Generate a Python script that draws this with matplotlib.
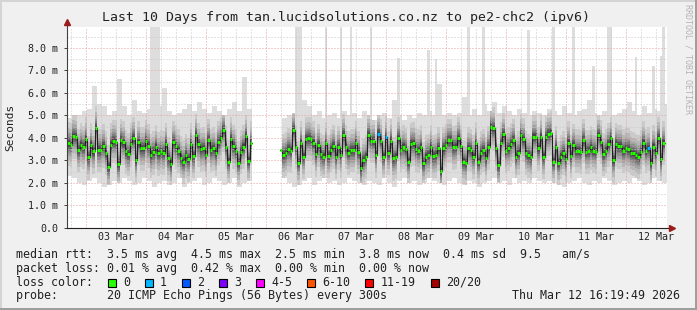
from datetime import datetime
import numpy as np
import matplotlib.pyplot as plt
from matplotlib.patches import Rectangle

nan = np.nan

# hourly median rtt (ms), first hour starts Mar 02 16:19:49
median_rtt = [
    3.76, 3.70, 4.08, 4.05, 3.47, 3.70, 3.60, 3.97, 3.14, 3.70,
    3.40, 4.45, 3.47, 3.47, 3.65, 3.35, 2.72, 3.70, 3.87, 3.84,
    2.84, 3.91, 3.80, 3.40, 3.29, 3.73, 4.00, 3.02, 3.80, 3.54,
    3.54, 3.87, 3.65, 3.24, 3.36, 3.61, 3.32, 3.40,
    3.35, 3.73, 3.10, 2.84, 3.81, 3.64, 3.44, 3.13, 2.95, 3.24,
    3.05, 3.72, 3.20, 4.13, 3.72, 3.50, 3.54, 3.26, 3.91, 3.47,
    3.54, 3.32, 3.82, 3.99, 4.36, 3.61, 2.95, 3.96, 3.64, 3.44,
    2.90, 3.39, 3.61, 4.09, 2.99, 3.79,
    nan, nan, nan, nan, nan, nan, nan, nan, nan, nan, nan,
    3.47, 3.24, 3.32, 3.51, 3.44, 4.36, 3.61, 2.90, 3.79, 3.17,
    3.96, 3.99, 3.96, 3.79, 3.27, 3.69, 3.29, 3.17, 3.76, 3.20,
    3.47, 3.64, 3.17, 3.59, 3.24, 4.13, 3.61, 3.35, 3.47, 3.47,
    3.79, 3.38, 2.65, 3.02, 3.17, 4.13, 3.88, 3.88, 3.24, 4.18,
    3.88, 3.17, 4.03, 3.35, 3.88, 3.10, 3.17, 3.99, 3.47, 3.61,
    3.50, 2.95, 3.73, 3.76, 3.50, 3.44, 3.61, 2.87, 3.17, 3.24,
    3.61, 3.20, 3.24, 3.54, 2.55, 3.54, 3.69, 3.91,
    3.91, 3.59, 3.61, 3.99, 3.64, 2.95, 2.90, 3.54, 3.47, 3.17,
    3.76, 2.95, 3.35, 3.47, 3.10, 3.59, 4.50, 4.43, 3.54, 2.80,
    3.76, 4.16, 3.44, 3.54, 3.73, 3.91, 3.17, 3.35, 4.13, 3.94,
    3.35, 3.24, 3.14, 4.06, 4.06, 3.54, 4.06, 3.17,
    4.03, 4.18, 4.24, 2.95, 3.59, 2.90, 3.17, 3.35, 3.05, 3.79,
    3.20, 3.69, 3.44, 3.44, 3.39, 3.91, 3.39, 3.42, 3.59, 3.44,
    3.39, 4.12, 3.84, 3.29, 3.44, 3.73, 3.99, 3.02, 3.73, 3.64,
    3.64, 3.44, 3.54, 3.50, 3.35, 3.32, 3.24, 3.17, 3.39, 3.79,
    3.44, 3.54, 2.90, 3.61, 3.32, 4.00, 3.05, 3.79,
]
# hours where pings were lost (hour -> lost count)
lost_pings = {124: 1, 127: 1, 232: 1}

# smoke envelope in two-hour bins (fastest / slowest ping)
smoke_min = [
    2.3, 2.2, 2.0, 1.9, 2.1, 2.2, 2.0, 1.8, 1.9, 2.1, 2.0, 2.2, 2.1, 1.9, 2.0, 2.2, 2.1, 1.8, 2.0,
    2.1, 1.9, 2.0, 2.2, 1.8, 2.0, 2.1, 2.2, 1.9, 2.0, 2.2, 2.1, 1.9, 2.0, 2.2, 1.8, 2.0, 2.1,
    nan, nan, nan, nan, nan, nan,
    2.2, 2.0, 1.8, 1.9, 2.1, 2.2, 1.9, 2.1, 2.2, 2.0, 2.1, 1.9, 2.0, 2.2, 2.1,
    2.0, 1.9, 2.1, 2.0, 1.9, 2.2, 2.0, 1.8, 2.1, 2.2, 2.0, 2.1, 1.9, 2.0, 2.2, 2.1, 2.0, 1.9, 2.1,
    2.2, 2.0, 1.9, 2.1, 2.0, 1.8, 2.0, 2.1, 2.2, 2.0, 2.1, 1.9, 2.2, 2.0, 2.1, 2.0, 2.2, 2.1, 2.0,
    2.1, 2.0, 1.9, 1.8, 2.0, 2.1, 2.2, 2.0, 1.9, 2.1, 2.0, 2.2, 2.1, 1.9, 2.0, 2.1, 2.0, 2.2,
    2.1, 1.9, 2.0, 2.2, 2.1, 2.0,
]
smoke_max = [
    4.9, 5.0, 5.0, 5.2, 5.3, 6.3, 5.5, 5.4, 5.0, 5.2, 6.6, 5.4, 5.0, 5.7, 5.2, 5.1, 5.3, 5.0, 5.4,
    6.2, 5.2, 5.0, 5.1, 5.3, 5.5, 5.2, 5.6, 5.3, 5.1, 5.4, 5.2, 5.0, 5.3, 5.6, 5.2, 6.7, 5.3,
    nan, nan, nan, nan, nan, nan,
    4.9, 5.0, 5.1, 6.2, 5.7, 5.4, 5.0, 5.2, 4.9, 5.0, 5.1, 4.9, 5.2, 5.0, 5.1,
    4.9, 5.2, 5.0, 4.8, 5.0, 5.1, 4.9, 5.7, 5.0, 4.8, 5.0, 4.9, 5.1, 5.0, 5.2, 5.0, 6.4, 5.0, 5.1,
    5.0, 5.1, 5.8, 5.0, 5.3, 5.0, 5.5, 5.2, 5.6, 5.1, 5.4, 5.2, 5.0, 5.3, 5.1, 5.0, 5.2, 5.1, 5.0,
    5.3, 5.2, 5.0, 5.4, 5.1, 5.0, 5.2, 5.3, 5.7, 5.1, 5.0, 5.2, 5.4, 5.0, 5.1, 5.3, 5.6, 5.2,
    5.0, 5.4, 5.1, 5.3, 5.2, 5.5,
]

# single hours where the slowest ping shot far above the smoke
spike_hours = [33, 34, 35, 36, 91, 92, 93, 103, 109, 113, 121, 132, 144, 147,
               160, 166, 184, 194, 202, 210, 216, 217, 227, 234, 237, 238]
spike_tops = [9.5, 9.5, 9.5, 9.5, 9.5, 9.5, 9.5, 9.5, 9.5, 9.5, 9.5, 7.55, 7.9, 7.5,
              9.5, 9.5, 8.8, 9.5, 9.5, 7.2, 9.5, 9.5, 7.6, 7.2, 7.65, 9.5]

# reach of the inner smoke bands below / above the median (ms)
band_below = [1.0, 0.75, 0.56, 0.43, 0.33, 0.25, 0.18, 0.11, 0.05]
band_above = [0.95, 0.7, 0.52, 0.4, 0.3, 0.22, 0.16, 0.1, 0.04]

day_labels = ['03 Mar', '04 Mar', '05 Mar', '06 Mar', '07 Mar',
              '08 Mar', '09 Mar', '10 Mar', '11 Mar', '12 Mar']
y_labels = ['0.0', '1.0 m', '2.0 m', '3.0 m', '4.0 m', '5.0 m', '6.0 m', '7.0 m', '8.0 m']

loss_names = ['0', '1', '2', '3', '4-5', '6-10', '11-19', '20/20']
loss_limits = [0, 1, 2, 3, 5, 10, 19, 20]
loss_colors = ['#26ff00', '#00b8ff', '#0059ff', '#7e00ff',
               '#ff00ff', '#ff5500', '#ff0000', '#a10000']

title = 'Last 10 Days from tan.lucidsolutions.co.nz to pe2-chc2 (ipv6)'
rtt_line = 'median rtt:  3.5 ms avg  4.5 ms max  2.5 ms min  3.8 ms now  0.4 ms sd  9.5   am/s'
loss_line = 'packet loss: 0.01 % avg  0.42 % max  0.00 % min  0.00 % now'
probe_line = 'probe:       20 ICMP Echo Pings (56 Bytes) every 300s'
stamp = 'Thu Mar 12 16:19:49 2026'
start = datetime(2026, 3, 2, 16, 19, 49)

plt.rcParams['font.family'] = 'DejaVu Sans Mono'

W, H = 697, 310
def fx(px):
    return px / W
def fy(py):
    return 1 - py / H

fig = plt.figure(figsize=(W / 100, H / 100), dpi=100)
fig.patch.set_facecolor('#f0f0f0')

ax = fig.add_axes([fx(67), fy(228), 600 / W, 201 / H])
ax.set_facecolor('white')
ax.set_xlim(0, 240)
ax.set_ylim(0, 8.93)
for s in ax.spines.values():
    s.set_visible(False)

med = np.array(median_rtt)
hours = np.arange(len(med))
lo_h = np.repeat(smoke_min, 2)[:len(med)]
hi_h = np.repeat(smoke_max, 2)[:len(med)]

# smoke: outer band, spikes, then darker inner bands
smin = np.array(smoke_min)
smax = np.array(smoke_max)
ok = ~np.isnan(smin)
bins = np.arange(len(smin)) * 2
ax.bar(bins[ok], (smax - smin)[ok], bottom=smin[ok], width=2, align='edge',
       color='#dddddd', linewidth=0, antialiased=False, zorder=1)
sh = np.array(spike_hours)
ax.bar(sh, np.array(spike_tops) - hi_h[sh], bottom=hi_h[sh], width=1, align='edge',
       color='#dddddd', linewidth=0, antialiased=False, zorder=1)
for k in range(len(band_below)):
    shade = int(19 * (8 - k)) + 50
    lo = np.clip(med - band_below[k], lo_h, hi_h)
    hi = np.clip(med + band_above[k], lo_h, hi_h)
    ok = ~np.isnan(lo)
    ax.bar(hours[ok], (hi - lo)[ok], bottom=lo[ok], width=1, align='edge',
           color='#%02x%02x%02x' % (shade, shade, shade), linewidth=0,
           antialiased=False, zorder=1)

# grid on top of smoke
dots = (0, (1, 2))
for v in np.arange(0.5, 8.9, 1.0):
    ax.axhline(v, color='#c8c8c8', lw=0.72, ls=dots, zorder=2)
for v in range(1, 9):
    ax.axhline(v, color='#e4a0a0', lw=0.72, ls=dots, zorder=2)
first_mid = (datetime(2026, 3, 3) - start).total_seconds() / 3600
for t in np.arange(first_mid - 6, 240, 6):
    major = abs((t - first_mid) % 24) < 1e-6
    ax.axvline(t, color='#e4a0a0' if major else '#c8c8c8', lw=0.72, ls=dots, zorder=2)

# median line coloured by loss
ax.step(np.append(hours, len(med)), np.append(med, med[-1]), where='post',
        color='#202020', lw=0.75, zorder=3)
cols = []
for h in hours:
    lost = lost_pings.get(int(h), 0)
    idx = next(i for i, lim in enumerate(loss_limits) if lost <= lim)
    cols.append(loss_colors[idx])
ok = ~np.isnan(med)
ax.hlines(med[ok], hours[ok], hours[ok] + 1, colors=np.array(cols)[ok], lw=2.2,
          capstyle='butt', zorder=4)

# axes with arrows
ax.plot([0, 0], [0, 1.02], transform=ax.transAxes, color='#404040', lw=0.8,
        clip_on=False, zorder=5)
ax.plot([0, 1.005], [0, 0], transform=ax.transAxes, color='#202020', lw=0.8,
        clip_on=False, zorder=5)
ax.plot([0], [1.025], marker='^', ms=4.5, color='#9b1c1c', transform=ax.transAxes,
        clip_on=False, zorder=6)
ax.plot([1.008], [0], marker='>', ms=4.5, color='#9b1c1c', transform=ax.transAxes,
        clip_on=False, zorder=6)

ax.set_yticks(range(9))
ax.set_yticklabels(y_labels)
ax.tick_params(axis='y', length=2, width=0.7, color='#404040', pad=4.3,
               labelsize=7.2, labelcolor='#222222')
ax.set_xticks([first_mid + 12 + 24 * i for i in range(len(day_labels))])
ax.set_xticklabels(day_labels)
ax.tick_params(axis='x', length=0, pad=3, labelsize=7.2, labelcolor='#222222')

# texts
fig.text(fx(346), fy(18), title, ha='center', va='center', fontsize=9.5, color='#222222')
fig.text(fx(10), fy(127), 'Seconds', rotation=90, ha='center', va='center',
         fontsize=8, color='#222222')
fig.text(fx(688), fy(4), 'RRDTOOL / TOBI OETIKER', rotation=270, ha='center', va='top',
         fontsize=6, color='#b4b4b4')

fs = 8.4
fig.text(fx(16), fy(254.5), rtt_line, ha='left', va='center', fontsize=fs, color='#222222')
fig.text(fx(16), fy(268.3), loss_line, ha='left', va='center', fontsize=fs, color='#222222')
fig.text(fx(16), fy(282.2), 'loss color:', ha='left', va='center', fontsize=fs, color='#222222')
fig.text(fx(16), fy(295.8), probe_line, ha='left', va='center', fontsize=fs, color='#222222')
fig.text(fx(680), fy(295.8), stamp, ha='right', va='center', fontsize=fs, color='#222222')

x = 108
for name, col in zip(loss_names, loss_colors):
    fig.patches.append(Rectangle((fx(x), fy(286.5)), 8 / W, 8 / H, transform=fig.transFigure,
                                 facecolor=col, edgecolor='black', lw=0.8))
    fig.text(fx(x + 15), fy(282.2), name, ha='left', va='center', fontsize=fs, color='#222222')
    x += 15 + len(name) * 7.04 + 15

# 3d frame
fig.patches.append(Rectangle((0, fy(2)), 1, 2 / H, transform=fig.transFigure, color='#d4d4d4', lw=0))
fig.patches.append(Rectangle((0, 0), 2 / W, 1, transform=fig.transFigure, color='#d4d4d4', lw=0))
fig.patches.append(Rectangle((fx(695), 0), 2 / W, 1, transform=fig.transFigure, color='#9e9e9e', lw=0))
fig.patches.append(Rectangle((0, 0), 1, 2 / H, transform=fig.transFigure, color='#9e9e9e', lw=0))

fig.savefig('out.png', dpi=100, facecolor=fig.get_facecolor())
